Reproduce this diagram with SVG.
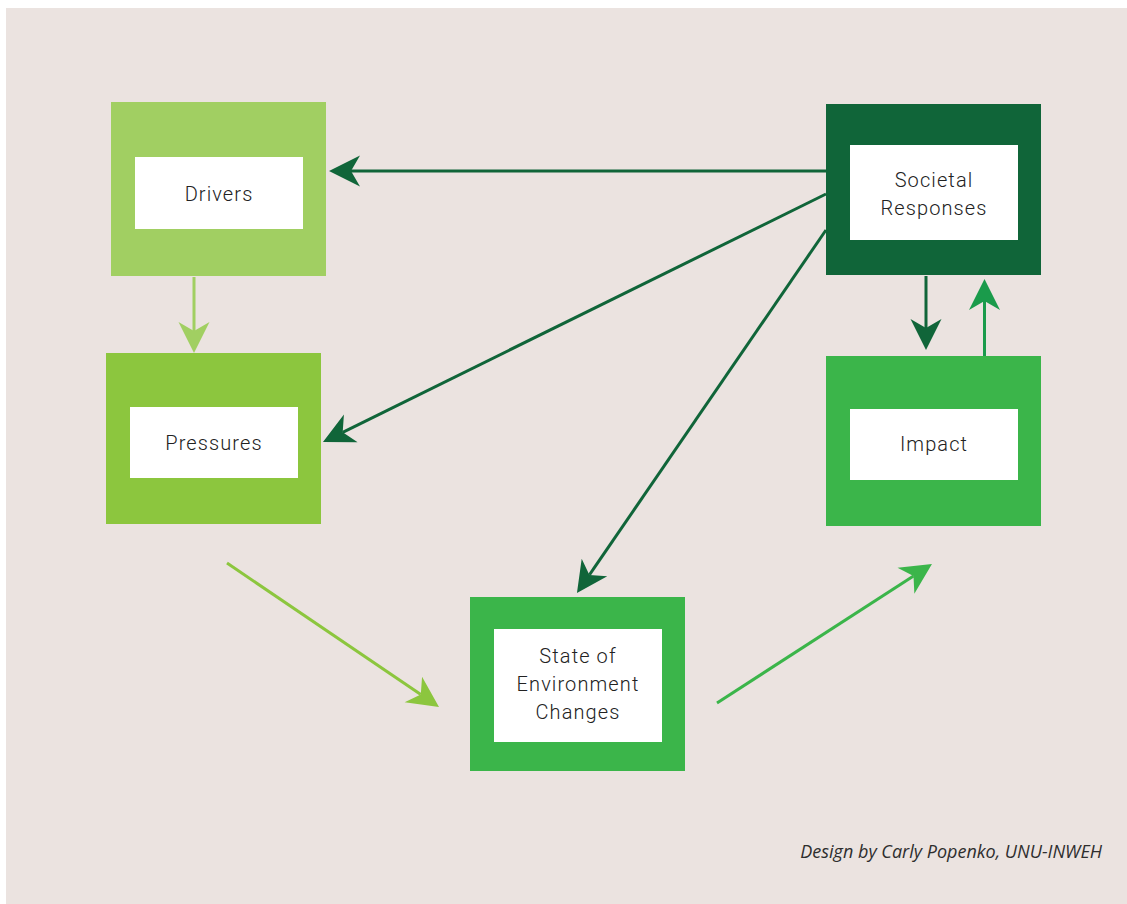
<svg xmlns="http://www.w3.org/2000/svg" width="1127" height="904" viewBox="0 0 1127 904">
<style>
.inner{fill:#ffffff}
.lbl{font-family:Roboto,"Liberation Sans",sans-serif;font-weight:300;font-size:20px;fill:#222222;text-anchor:middle;letter-spacing:1.1px}
.cn{fill:none;stroke-width:3}
.credit{font-family:"Open Sans","Liberation Sans",sans-serif;font-style:italic;font-size:18px;fill:#2e2e2e;text-anchor:end}
</style>
<defs>
<marker id="mDark" markerUnits="userSpaceOnUse" orient="auto" refX="0" refY="0" markerWidth="40" markerHeight="40" overflow="visible"><path d="M22,0 L-9,-15.5 L0,0 L-9,15.5 Z" fill="#106539"/></marker>
<marker id="mLight" markerUnits="userSpaceOnUse" orient="auto" refX="0" refY="0" markerWidth="40" markerHeight="40" overflow="visible"><path d="M22,0 L-9,-15.5 L0,0 L-9,15.5 Z" fill="#a1cf62"/></marker>
<marker id="mLime" markerUnits="userSpaceOnUse" orient="auto" refX="0" refY="0" markerWidth="40" markerHeight="40" overflow="visible"><path d="M22,0 L-9,-15.5 L0,0 L-9,15.5 Z" fill="#8cc63e"/></marker>
<marker id="mMid" markerUnits="userSpaceOnUse" orient="auto" refX="0" refY="0" markerWidth="40" markerHeight="40" overflow="visible"><path d="M22,0 L-9,-15.5 L0,0 L-9,15.5 Z" fill="#3bb54a"/></marker>
<marker id="mUp" markerUnits="userSpaceOnUse" orient="auto" refX="0" refY="0" markerWidth="40" markerHeight="40" overflow="visible"><path d="M22,0 L-9,-15.5 L0,0 L-9,15.5 Z" fill="#1a9b4b"/></marker>
</defs>
<rect x="6" y="8" width="1121" height="896" fill="#ebe3e0"/>
<g id="drivers">
<rect x="111" y="102" width="215" height="174" fill="#a1cf62"/>
<rect class="inner" x="135" y="157" width="168" height="72"/>
<text class="lbl" x="219" y="201">Drivers</text>
</g>
<g id="pressures">
<rect x="106" y="353" width="215" height="171" fill="#8cc63e"/>
<rect class="inner" x="130" y="407" width="168" height="71"/>
<text class="lbl" x="214" y="450">Pressures</text>
</g>
<g id="societal-responses">
<rect x="826" y="104" width="215" height="171" fill="#106539"/>
<rect class="inner" x="850" y="145" width="168" height="95"/>
<text class="lbl" x="934" y="187">Societal</text>
<text class="lbl" x="934" y="215">Responses</text>
</g>
<g id="impact">
<rect x="826" y="356" width="215" height="170" fill="#3bb54a"/>
<rect class="inner" x="850" y="409" width="168" height="71"/>
<text class="lbl" x="934" y="451">Impact</text>
</g>
<g id="state">
<rect x="470" y="597" width="215" height="174" fill="#3bb54a"/>
<rect class="inner" x="494" y="629" width="168" height="113"/>
<text class="lbl" x="578" y="663">State of</text>
<text class="lbl" x="578" y="691">Environment</text>
<text class="lbl" x="578" y="719">Changes</text>
</g>
<g id="connectors">
<line class="cn" x1="826" y1="171" x2="351" y2="171" stroke="#106539" marker-end="url(#mDark)"/>
<line class="cn" x1="194" y1="277" x2="194" y2="331" stroke="#a1cf62" stroke-width="4" marker-end="url(#mLight)"/>
<line class="cn" x1="826" y1="194" x2="342.7" y2="432.3" stroke="#106539" marker-end="url(#mDark)"/>
<line class="cn" x1="826" y1="230" x2="589.4" y2="574.9" stroke="#106539" marker-end="url(#mDark)"/>
<line class="cn" x1="926" y1="276" x2="926" y2="328" stroke="#106539" marker-end="url(#mDark)"/>
<line class="cn" x1="984.5" y1="356" x2="984.5" y2="301" stroke="#1a9b4b" marker-end="url(#mUp)"/>
<line class="cn" x1="227" y1="563" x2="420.8" y2="694.6" stroke="#8cc63e" marker-end="url(#mLime)"/>
<line class="cn" x1="717" y1="703" x2="913.5" y2="575.9" stroke="#3bb54a" marker-end="url(#mMid)"/>
</g>
<text class="credit" x="1102" y="858">Design by Carly Popenko, UNU-INWEH</text>
</svg>
